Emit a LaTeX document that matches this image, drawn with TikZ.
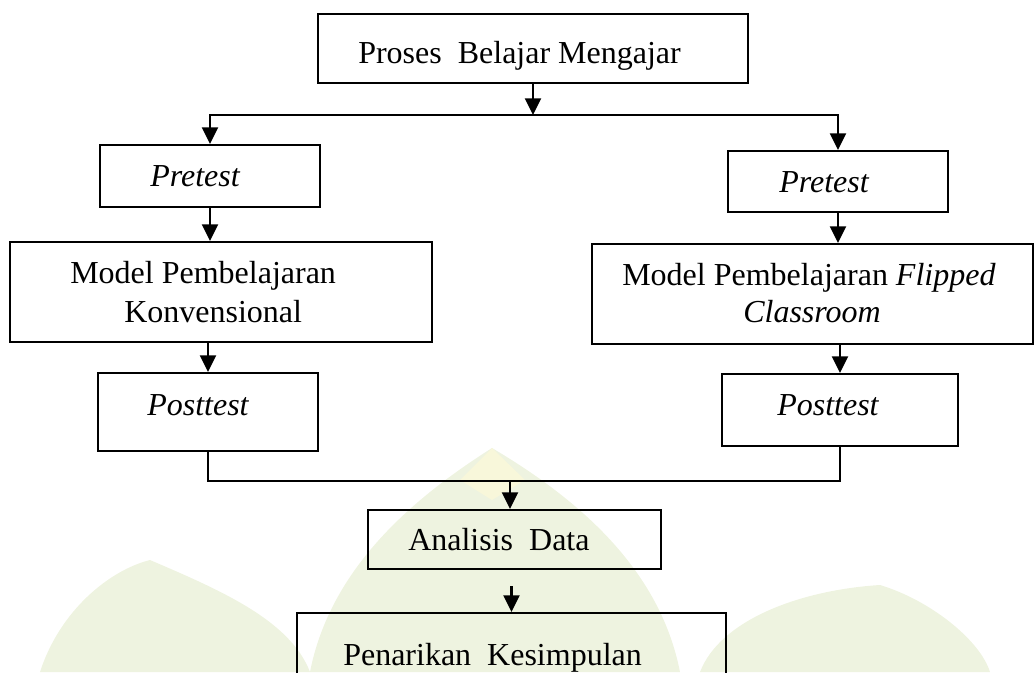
\documentclass[tikz,border=0pt]{standalone}
\usepackage{fontspec}
\setmainfont{Liberation Serif}
\usepackage{tikz}
\usetikzlibrary{arrows.meta}
\definecolor{hijaulogo}{RGB}{238,243,224}
\definecolor{kuninglogo}{RGB}{248,247,218}
\tikzset{
    kotak/.style={draw, line width=1.6pt, inner sep=0pt},
    ukuran/.style 2 args={minimum width=#1*0.75pt, minimum height=#2*0.75pt},
    teks/.style={anchor=base west, inner sep=0pt, font=\fontsize{24}{29}\selectfont},
    garis/.style={line width=1.6pt},
    panah/.style={line width=1.6pt, -{Triangle[length=12.5pt, width=12pt]}}
}
\begin{document}
\begin{tikzpicture}[x=0.75pt, y=-0.75pt]
    \useasboundingbox (0,0) rectangle (1035,672);
    \clip (0,0) rectangle (1035,672);
    \fill[hijaulogo] (40,672) .. controls (60,610) and (110,570) .. (150,560) .. controls (220,590) and (290,620) .. (310,672) -- cycle;
    \fill[hijaulogo] (700,672) .. controls (720,620) and (800,590) .. (880,585) .. controls (930,600) and (980,640) .. (990,672) -- cycle;
    \fill[hijaulogo] (492,448) .. controls (580,500) and (660,570) .. (680,672) -- (310,672) .. controls (330,570) and (410,500) .. (492,448) -- cycle;
    \fill[kuninglogo] (492,448) -- (525,480) -- (492,500) -- (460,480) -- cycle;
    \node[kotak, ukuran={430}{69}] (proses) at (533,48.5) {};
    \node[teks] (tProses) at (358,63) {Proses\ \ Belajar Mengajar};
    \node[kotak, ukuran={220}{62}] (preKiri) at (210,176) {};
    \node[teks] (tPreKiri) at (150,186) {\textit{Pretest}};
    \node[kotak, ukuran={422}{100}] (modelKiri) at (221,292) {};
    \node[teks] (tModelKiri) at (70,283) {Model Pembelajaran};
    \node[teks] (tKonvensional) at (124,322) {Konvensional};
    \node[kotak, ukuran={220}{78}] (postKiri) at (208,412) {};
    \node[teks] (tPostKiri) at (147,415) {\textit{Posttest}};
    \node[kotak, ukuran={220}{61}] (preKanan) at (838,181.5) {};
    \node[teks] (tPreKanan) at (779,192) {\textit{Pretest}};
    \node[kotak, ukuran={441}{100}] (modelKanan) at (812.5,294) {};
    \node[teks] (tModelKanan) at (622,285) {Model Pembelajaran \textit{Flipped}};
    \node[teks] (tClassroom) at (743,322) {\textit{Classroom}};
    \node[kotak, ukuran={236}{72}] (postKanan) at (840,410) {};
    \node[teks] (tPostKanan) at (777,415) {\textit{Posttest}};
    \node[kotak, ukuran={293}{59}] (analisis) at (514.5,539.5) {};
    \node[teks] (tAnalisis) at (408,550) {Analisis\ \ Data};
    \node[kotak, ukuran={429}{107}] (kesimpulan) at (511.5,666.5) {};
    \node[teks] (tKesimpulan) at (343,665) {Penarikan\ \ Kesimpulan};
    \coordinate (cabang) at (533,115);
    \coordinate (gabung) at (510,481);
    \draw[panah] (proses) -- (cabang);
    \draw[panah] (cabang) -| (preKiri);
    \draw[panah] (cabang) -| (preKanan);
    \draw[panah] (preKiri) -- (preKiri.south |- modelKiri.north);
    \draw[panah] (modelKiri.south -| postKiri.north) -- (postKiri);
    \draw[panah] (preKanan) -- (preKanan.south |- modelKanan.north);
    \draw[panah] (modelKanan.south -| postKanan.north) -- (postKanan);
    \draw[garis] (postKiri) |- (gabung) -| (postKanan);
    \draw[panah] (gabung) -- (gabung |- analisis.north);
    \draw[panah] ([yshift=-12pt]analisis.south -| kesimpulan.north) -- (kesimpulan);
\end{tikzpicture}
\end{document}
